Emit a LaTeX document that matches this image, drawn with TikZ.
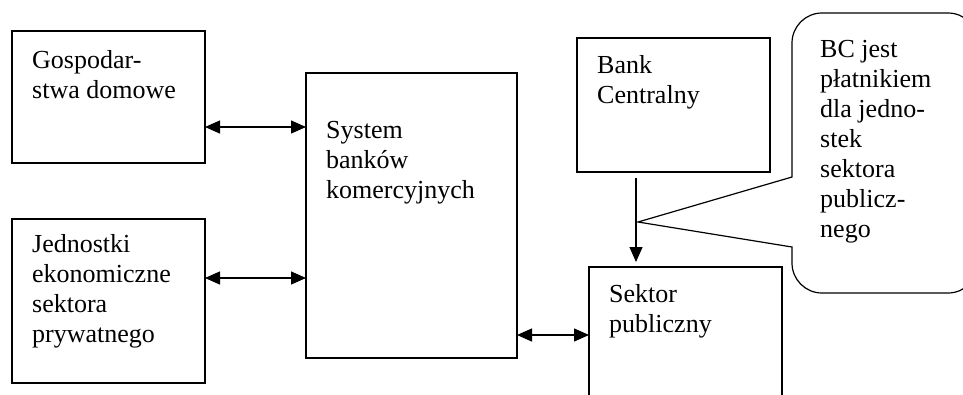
\documentclass[tikz,border=0pt]{standalone}
\usepackage{fontspec}
\setmainfont{Liberation Serif}
\usetikzlibrary{arrows.meta}
\begin{document}
\begin{tikzpicture}[x=1pt,y=-1pt,
  box/.style={draw, line width=1.2pt, inner sep=0pt, outer sep=0pt, anchor=north west},
  txt/.style={anchor=north west, inner sep=0pt, align=left, font=\fontsize{26}{30}\selectfont},
  tip/.tip={Triangle[length=15pt,width=13pt]},
  arr/.style={line width=1.3pt, -tip},
  biarr/.style={line width=1.3pt, tip-tip}]
% page frame
\path[use as bounding box, fill=white] (0,0) rectangle (963,394);
\clip (0,0) rectangle (963,394);

% boxes
\node[box, minimum width=193pt, minimum height=132pt] (gd)  at (12,31)  {};
\node[box, minimum width=193pt, minimum height=164pt] (je)  at (12,219) {};
\node[box, minimum width=211pt, minimum height=285pt] (sys) at (306,73) {};
\node[box, minimum width=193pt, minimum height=134pt] (bc)  at (577,38) {};
\node[box, minimum width=193pt, minimum height=160pt] (sp)  at (589,267) {};

% box labels (first baseline 21pt below the node top)
\node[txt] (tgd)  at (32,47)   {\strut Gospodar-\\stwa domowe};
\node[txt] (tje)  at (32,231)  {\strut Jednostki\\ekonomiczne\\sektora\\prywatnego};
\node[txt] (tsys) at (326,117) {\strut System\\banków\\komercyjnych};
\node[txt] (tbc)  at (597,52)  {\strut Bank\\Centralny};
\node[txt] (tsp)  at (609,281) {\strut Sektor\\publiczny};

% callout with pointer: rounded box corners, sharp pointer corners
\draw[line width=1.2pt, rounded corners=30pt]
  (880,13) -- (978,13) -- (978,293) -- (792,293)
  [sharp corners] -- (792,247) -- (638,222) -- (792,177)
  [rounded corners=30pt] -- (792,13) -- (880,13);
\node[txt] (tco) at (820,36) {\strut BC jest\\płatnikiem\\dla jedno-\\stek\\sektora\\publicz-\\nego};

% connectors
\coordinate (r1) at (0,127);
\coordinate (r2) at (0,278);
\coordinate (r3) at (0,335);
\coordinate (c1) at (636,0);
\draw[biarr] (gd.east |- r1) -- (sys.west |- r1);
\draw[biarr] (je.east |- r2) -- (sys.west |- r2);
\draw[biarr] (sys.east |- r3) -- (sp.west |- r3);
\draw[arr, shorten <=6pt, shorten >=5pt] (bc.south -| c1) -- (sp.north -| c1);
\end{tikzpicture}
\end{document}
